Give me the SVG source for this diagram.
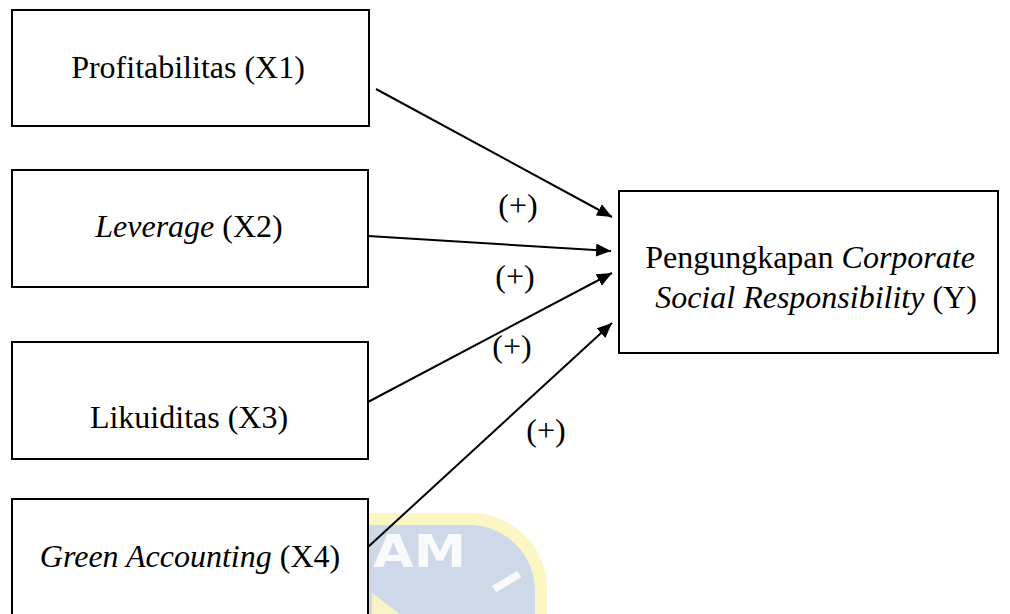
<svg xmlns="http://www.w3.org/2000/svg" width="1010" height="614" viewBox="0 0 1010 614">
<style>
.box{fill:#fff;stroke:#000;stroke-width:2}
.t{font-family:"Liberation Serif","Times New Roman",serif;font-size:32px;fill:#000}
.c{text-anchor:middle}
.i{font-style:italic}
.conn{stroke:#000;stroke-width:2;fill:none;marker-end:url(#ah)}
.wm{font-family:"DejaVu Sans","Liberation Sans",sans-serif;font-weight:bold;fill:#fff;fill-opacity:0.85}
</style>
<defs>
<marker id="ah" markerUnits="userSpaceOnUse" markerWidth="16" markerHeight="13" refX="15" refY="6.5" orient="auto">
<path d="M0,0 L15,6.5 L0,13 z" fill="#000"/>
</marker>
</defs>
<rect width="1010" height="614" fill="#fff"/>
<g id="watermark">
<rect x="190" y="513" width="357" height="320" rx="76" fill="#fbf6c3"/>
<rect x="201" y="525" width="334" height="300" rx="66" fill="#cdd9e8"/>
<polygon points="372,593 372,614 400,614" fill="#f7f3c6"/>
<text class="wm" x="373" y="567" font-size="44" textLength="93" lengthAdjust="spacingAndGlyphs">AM</text>
<text class="wm" x="0" y="0" font-size="40" transform="translate(506,582) rotate(59)" text-anchor="middle" dy="14">I</text>
</g>
<g id="connectors">
<line class="conn" x1="376" y1="89" x2="612" y2="217"/>
<line class="conn" x1="368" y1="236" x2="611" y2="251"/>
<line class="conn" x1="368" y1="402" x2="612" y2="273"/>
<line class="conn" x1="368" y1="547" x2="612" y2="323"/>
<text class="t c" x="518" y="216">(+)</text>
<text class="t c" x="515" y="287">(+)</text>
<text class="t c" x="512" y="357">(+)</text>
<text class="t c" x="546" y="441">(+)</text>
</g>
<g id="x1">
<rect class="box" x="12" y="10" width="357" height="116"/>
<text class="t c" x="188" y="78">Profitabilitas (X1)</text>
</g>
<g id="x2">
<rect class="box" x="12" y="170" width="356" height="117"/>
<text class="t c" x="189" y="237"><tspan class="i">Leverage</tspan> (X2)</text>
</g>
<g id="x3">
<rect class="box" x="12" y="342" width="356" height="117"/>
<text class="t c" x="189" y="428">Likuiditas (X3)</text>
</g>
<g id="x4">
<rect class="box" x="12" y="499" width="356" height="130"/>
<text class="t c" x="190" y="567"><tspan class="i">Green Accounting</tspan> (X4)</text>
</g>
<g id="y">
<rect class="box" x="619" y="191" width="379" height="162"/>
<text class="t c" x="810" y="268">Pengungkapan <tspan class="i">Corporate</tspan></text>
<text class="t c" x="816" y="308"><tspan class="i">Social Responsibility</tspan> (Y)</text>
</g>
</svg>
